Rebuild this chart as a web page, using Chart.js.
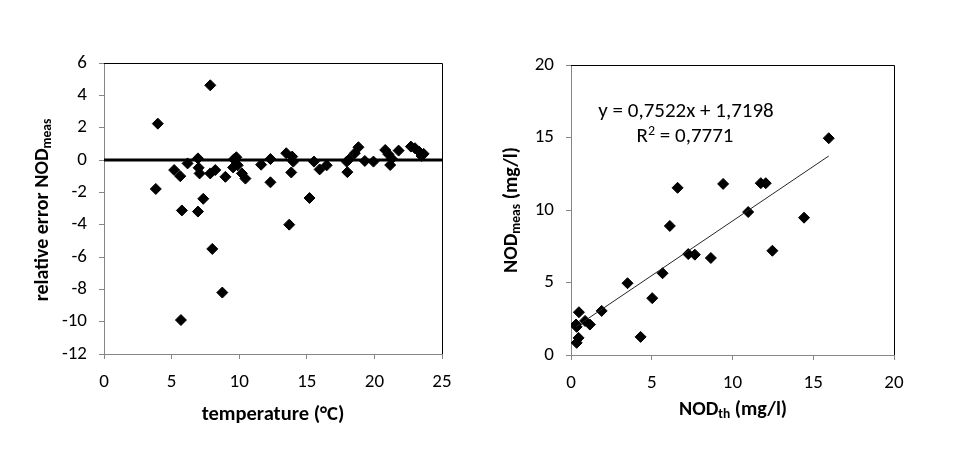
<!DOCTYPE html>
<html>
<head>
<meta charset="utf-8">
<script src="https://cdn.jsdelivr.net/npm/chart.js@4.4.1/dist/chart.umd.min.js"></script>
<style>
html,body{margin:0;padding:0;background:#fff;}
#wrap{position:relative;width:966px;height:453px;}
.box{position:absolute;top:0;width:483px;height:453px;}
</style>
</head>
<body>
<div id="wrap">
  <div class="box" style="left:0"><canvas id="c-left"></canvas></div>
  <div class="box" style="left:483px"><canvas id="c-right"></canvas></div>
</div>
<script>
// left panel: relative error vs temperature
const tempC=[3.83,3.98,5.19,5.64,5.69,5.76,6.18,6.95,6.95,7.00,7.07,7.34,7.86,7.86,8.01,8.23,8.75,8.98,9.55,9.60,9.79,9.89,10.2,10.46,11.62,12.31,12.31,13.48,13.70,13.85,13.92,14.0,15.2,15.53,15.95,16.47,17.95,18.0,18.13,18.55,18.82,19.29,19.93,20.8,21.04,21.17,21.29,21.79,22.7,23.0,23.3,23.49,23.64];
const relErr=[-1.79,2.25,-0.62,-1.0,-9.9,-3.12,-0.21,0.10,-3.19,-0.48,-0.83,-2.4,4.62,-0.83,-5.5,-0.62,-8.2,-1.04,-0.46,0.04,0.17,-0.33,-0.83,-1.15,-0.29,0.06,-1.38,0.42,-4.0,-0.77,0.21,-0.1,-2.35,-0.1,-0.58,-0.33,-0.1,-0.75,0.04,0.42,0.79,-0.06,-0.1,0.62,0.35,-0.31,0.08,0.58,0.83,0.73,0.52,0.25,0.38];
const leftXTicks=[0,5,10,15,20,25];
const leftYTicks=[-12,-10,-8,-6,-4,-2,0,2,4,6];

// right panel: measured vs theoretical NOD
const nodTh=[0.35,0.47,0.35,0.31,0.49,0.87,1.17,1.90,3.50,4.31,5.03,5.67,6.12,6.60,7.26,7.67,8.66,9.42,10.97,11.75,12.06,12.47,14.43,15.96];
const nodMeas=[0.84,1.18,1.94,2.10,2.95,2.35,2.10,3.04,4.95,1.25,3.92,5.64,8.90,11.53,6.96,6.92,6.69,11.80,9.86,11.85,11.85,7.19,9.47,14.95];
const rightTicks=[0,5,10,15,20];
const slope=0.7522, intercept=1.7198;
const eqText=['y = 0,7522x + 1,7198','R','2',' = 0,7771'];

const FONT='Carlito, Calibri, Lato, sans-serif';
const AX='#868686';

function drawRich(ctx,parts,x,y,rot){
  // parts: [text,size,bold,dy]
  ctx.save();
  ctx.translate(x,y);ctx.rotate(rot||0);
  let w=0;
  parts.forEach(p=>{ctx.font=(p[2]?'bold ':'')+p[1]+'px '+FONT;w+=ctx.measureText(p[0]).width;});
  let cx=-w/2;
  ctx.fillStyle='#000';ctx.textBaseline='middle';ctx.textAlign='left';
  parts.forEach(p=>{ctx.font=(p[2]?'bold ':'')+p[1]+'px '+FONT;ctx.fillText(p[0],cx,p[3]||0);cx+=ctx.measureText(p[0]).width;});
  ctx.restore();
}

const framePlugin={
  id:'frame',
  afterDatasetsDraw(chart,args,opts){
    const a=chart.chartArea,ctx=chart.ctx;
    ctx.save();ctx.strokeStyle='#000';ctx.lineWidth=1;
    ctx.beginPath();
    ctx.moveTo(a.left,a.top+0.5);ctx.lineTo(a.right+0.5,a.top+0.5);ctx.lineTo(a.right+0.5,a.bottom);
    ctx.stroke();ctx.restore();
    (opts.texts||[]).forEach(t=>drawRich(ctx,t.parts,t.x,t.y,t.rot));
  }
};

function axis(min,max,step,ticks,pad){
  return {
    type:'linear',min,max,
    afterBuildTicks:s=>{s.ticks=ticks.map(v=>({value:v}));},
    grid:{drawOnChartArea:false,drawTicks:true,tickLength:5,color:AX},
    border:{color:AX,width:1},
    ticks:{color:'#000',font:{family:FONT,size:19},padding:pad,stepSize:step}
  };
}

const pts=(xs,ys)=>xs.map((x,i)=>({x,y:ys[i]}));
const markerDs=(data)=>({type:'scatter',data,pointStyle:'rectRot',pointRadius:5.5,pointBackgroundColor:'#000',pointBorderColor:'#000',pointBorderWidth:1,showLine:false,order:1});

const lx=axis(0,25,5,leftXTicks,12);lx.afterFit=s=>{s.height=99;};
const ly=axis(-12,6,2,leftYTicks,12);ly.afterFit=s=>{s.width=104;};
new Chart(document.getElementById('c-left'),{
  type:'scatter',
  data:{datasets:[
    markerDs(pts(tempC,relErr)),
    {type:'line',data:[{x:leftXTicks[0],y:0},{x:leftXTicks[leftXTicks.length-1],y:0}],borderColor:'#000',borderWidth:3,pointRadius:0,order:2}
  ]},
  options:{
    responsive:true,maintainAspectRatio:false,animation:false,
    layout:{padding:{top:63,right:41,left:0,bottom:0}},
    plugins:{legend:{display:false},tooltip:{enabled:false},
      frame:{texts:[
        {parts:[['temperature (°C)',20.5,true]],x:273,y:415},
        {parts:[['relative error NOD',20,true],['meas',13.5,true,5]],x:43,y:210,rot:-Math.PI/2}
      ]}},
    scales:{x:lx,y:ly}
  },
  plugins:[framePlugin]
});

const xMin=Math.min(...nodTh),xMax=Math.max(...nodTh);
const rx=axis(0,20,5,rightTicks,12);rx.afterFit=s=>{s.height=98;};
const ry=axis(0,20,5,rightTicks,12);ry.afterFit=s=>{s.width=88;};
new Chart(document.getElementById('c-right'),{
  type:'scatter',
  data:{datasets:[
    markerDs(pts(nodTh,nodMeas)),
    {type:'line',data:[{x:xMin,y:slope*xMin+intercept},{x:xMax,y:slope*xMax+intercept}],borderColor:'#262626',borderWidth:1,pointRadius:0,order:0}
  ]},
  options:{
    responsive:true,maintainAspectRatio:false,animation:false,
    layout:{padding:{top:65,right:72,left:0,bottom:0}},
    plugins:{legend:{display:false},tooltip:{enabled:false},
      frame:{texts:[
        {parts:[['NOD',20,true],['th',13.5,true,5],[' (mg/l)',20,true]],x:250,y:410},
        {parts:[['NOD',20,true],['meas',13.5,true,5],[' (mg/l)',20,true]],x:29,y:210,rot:-Math.PI/2},
        {parts:[[eqText[0],21,false]],x:203,y:112},
        {parts:[[eqText[1],21,false],[eqText[2],14,false,-6],[eqText[3],21,false]],x:202,y:137}
      ]}},
    scales:{x:rx,y:ry}
  },
  plugins:[framePlugin]
});
</script>
</body>
</html>
